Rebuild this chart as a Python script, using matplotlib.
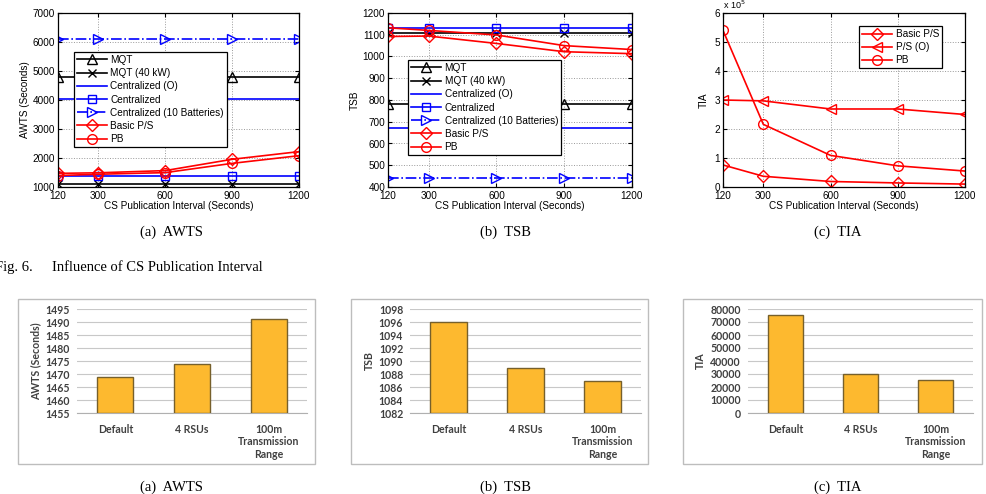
import numpy as np
import matplotlib
matplotlib.use('Agg')
import matplotlib.pyplot as plt
from matplotlib.patches import Rectangle

# x axis of the line plots
interval = [120, 300, 600, 900, 1200]

# AWTS (Seconds)
awts_mqt = [4800, 4800, 4800, 4800, 4800]
awts_mqt40 = [1090, 1090, 1090, 1090, 1090]
awts_cent_o = [4020, 4020, 4020, 4020, 4020]
awts_cent = [1365, 1365, 1365, 1365, 1365]
awts_cent10 = [6120, 6120, 6120, 6120, 6120]
awts_basic = [1470, 1490, 1565, 1955, 2220]
awts_pb = [1395, 1440, 1495, 1815, 2080]

# TSB
tsb_mqt = [780, 780, 780, 780, 780]
tsb_mqt40 = [1106, 1106, 1106, 1106, 1106]
tsb_cent_o = [670, 670, 670, 670, 670]
tsb_cent = [1130, 1130, 1130, 1130, 1130]
tsb_cent10 = [440, 440, 440, 440, 440]
tsb_basic = [1092, 1094, 1060, 1022, 1013]
tsb_pb = [1132, 1120, 1099, 1050, 1032]

# TIA (x 10^5)
tia_basic = [0.76, 0.37, 0.19, 0.14, 0.10]
tia_pso = [3.0, 2.97, 2.69, 2.69, 2.50]
tia_pb = [5.40, 2.16, 1.09, 0.73, 0.55]

# bar charts
scenarios = ['Default', '4 RSUs', '100m\nTransmission\nRange']
bar_awts = [1469, 1474, 1491]
bar_tsb = [1096, 1089, 1087]
bar_tia = [75200, 30300, 25600]

W, H = 986, 494
fig = plt.figure(figsize=(W / 100, H / 100), dpi=100)
plt.rcParams['font.family'] = ['Liberation Sans', 'DejaVu Sans']

def px_axes(x0, x1, y0, y1):
    return fig.add_axes([x0 / W, 1 - y1 / H, (x1 - x0) / W, (y1 - y0) / H])

fs = 7.2
BLUE = '#0000ff'
RED = '#ff0000'

def style_line_ax(ax, ylim, yticks):
    ax.set_xlim(120, 1200)
    ax.set_xticks(interval)
    ax.set_ylim(*ylim)
    ax.set_yticks(yticks)
    ax.grid(True, linestyle=':', color='#999999', linewidth=0.7)
    ax.tick_params(direction='in', top=True, right=True, labelsize=fs, length=3, pad=2)
    ax.tick_params(axis='x', pad=3)
    for s in ax.spines.values():
        s.set_linewidth(0.9)
    ax.set_xlabel('CS Publication Interval (Seconds)', fontsize=fs, labelpad=0)

mk = dict(markersize=7, markerfacecolor='none', linewidth=1.2, markeredgewidth=1.0)

def line_set(ax, d):
    ax.plot(interval, d[0], color='k', marker='^', label='MQT', **mk)
    ax.plot(interval, d[1], color='k', marker='x', label='MQT (40 kW)', **dict(mk, markersize=6))
    ax.plot(interval, d[2], color=BLUE, linewidth=1.2, label='Centralized (O)')
    ax.plot(interval, d[3], color=BLUE, marker='s', label='Centralized', **dict(mk, markersize=6))
    ax.plot(interval, d[4], color=BLUE, marker='>', linestyle='-.', label='Centralized (10 Batteries)', **mk)
    ax.plot(interval, d[5], color=RED, marker='D', label='Basic P/S', **dict(mk, markersize=6))
    ax.plot(interval, d[6], color=RED, marker='o', label='PB', **mk)

leg_kw = dict(fontsize=fs, fancybox=False, framealpha=1, edgecolor='k',
              handlelength=3.0, labelspacing=0.32, borderpad=0.3, handletextpad=0.35,
              borderaxespad=0)

# (a) AWTS
ax1 = px_axes(58, 299, 13, 187)
line_set(ax1, [awts_mqt, awts_mqt40, awts_cent_o, awts_cent, awts_cent10, awts_basic, awts_pb])
style_line_ax(ax1, (1000, 7000), range(1000, 7001, 1000))
ax1.set_ylabel('AWTS (Seconds)', fontsize=fs, labelpad=2)
lg = ax1.legend(loc='upper left', bbox_to_anchor=(0.066, 0.776), **leg_kw)
lg.get_frame().set_linewidth(0.9)

# (b) TSB
ax2 = px_axes(388, 632, 13, 187)
line_set(ax2, [tsb_mqt, tsb_mqt40, tsb_cent_o, tsb_cent, tsb_cent10, tsb_basic, tsb_pb])
style_line_ax(ax2, (400, 1200), range(400, 1201, 100))
ax2.set_ylabel('TSB', fontsize=fs, labelpad=2)
lg = ax2.legend(loc='upper left', bbox_to_anchor=(0.082, 0.730), **leg_kw)
lg.get_frame().set_linewidth(0.9)

# (c) TIA
ax3 = px_axes(723, 965, 13, 187)
ax3.plot(interval, tia_basic, color=RED, marker='D', label='Basic P/S', **dict(mk, markersize=6))
ax3.plot(interval, tia_pso, color=RED, marker='<', label='P/S (O)', **mk)
ax3.plot(interval, tia_pb, color=RED, marker='o', label='PB', **mk)
style_line_ax(ax3, (0, 6), range(0, 7))
ax3.set_ylabel('TIA', fontsize=fs, labelpad=4)
ax3.text(0.0, 1.012, r'x 10$^5$', transform=ax3.transAxes, fontsize=fs - 0.7, va='bottom')
lg = ax3.legend(loc='upper left', bbox_to_anchor=(0.562, 0.925), **leg_kw)
lg.get_frame().set_linewidth(0.9)

# captions
serif = ['Liberation Serif', 'DejaVu Serif']
for xc, t in [(172, '(a)  AWTS'), (505, '(b)  TSB'), (838, '(c)  TIA')]:
    fig.text(xc / W, 1 - 232 / H, t, ha='center', va='center', fontsize=10.5, family=serif)
    fig.text(xc / W, 1 - 487 / H, t, ha='center', va='center', fontsize=10.5, family=serif)
fig.text(33 / W, 1 - 267 / H, 'Fig. 6.', ha='right', va='center', fontsize=10.5, family=serif)
fig.text(52 / W, 1 - 267 / H, 'Influence of CS Publication Interval', ha='left', va='center',
         fontsize=10.5, family=serif)

# bar charts
bfont = ['Lato', 'DejaVu Sans']
BAR = '#fdb92f'
EDGE = '#76602c'
bfs = 7.6

def bar_panel(frame, plot, vals, ylim, step, ylabel):
    fx0, fx1 = frame
    fig.patches.append(Rectangle((fx0 / W, 1 - 464 / H), (fx1 - fx0) / W, 165 / H,
                                 transform=fig.transFigure, fill=False,
                                 edgecolor='#bdbdbd', linewidth=1.0))
    ax = px_axes(plot[0], plot[1], 309, 413)
    x = np.arange(len(scenarios))
    ax.bar(x, [v - ylim[0] for v in vals], bottom=ylim[0], width=0.47, color=BAR,
           edgecolor=EDGE, linewidth=1.0, zorder=3)
    ax.set_xlim(-0.5, 2.5)
    ax.set_ylim(*ylim)
    ax.set_yticks(np.arange(ylim[0], ylim[1] + step / 2, step))
    ax.grid(True, axis='y', color='#c8c8c8', linewidth=0.8, zorder=0)
    for s in ['top', 'right', 'left']:
        ax.spines[s].set_visible(False)
    ax.spines['bottom'].set_color('#b0b0b0')
    ax.set_xticks(x)
    ax.set_xticklabels(scenarios, family=bfont, fontweight='bold', fontsize=bfs, color='#404040',
                       linespacing=1.15)
    for lab in ax.get_yticklabels():
        lab.set_family(bfont)
        lab.set_fontweight('bold')
    ax.tick_params(length=0, labelsize=bfs, labelcolor='#404040', pad=5)
    ax.tick_params(axis='x', pad=8)
    ax.set_ylabel(ylabel, family=bfont, fontweight='bold', fontsize=bfs, color='#404040', labelpad=3)
    return ax

bar_panel((18, 315), (77, 307), bar_awts, (1455, 1495), 5, 'AWTS (Seconds)')
bar_panel((351, 648), (410, 641), bar_tsb, (1082, 1098), 2, 'TSB')
bar_panel((683, 982), (748, 973), bar_tia, (0, 80000), 10000, 'TIA')

fig.savefig('out.png', dpi=100)
